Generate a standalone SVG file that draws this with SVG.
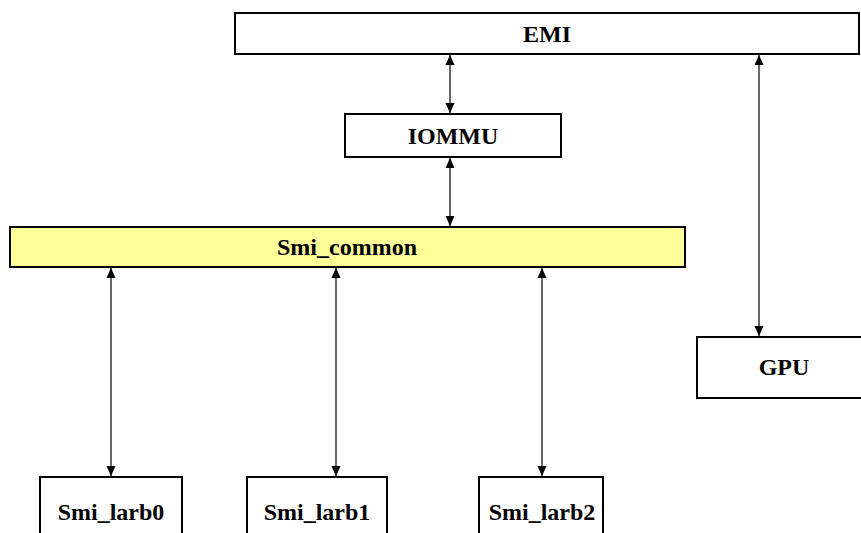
<svg xmlns="http://www.w3.org/2000/svg" width="861" height="533" viewBox="0 0 861 533">
  <style>
    .box { fill: #ffffff; stroke: #000000; stroke-width: 2; }
    .common { fill: #ffff99; }
    .label { font-family: "Liberation Serif", "Times New Roman", serif; font-weight: bold; font-size: 24px; text-anchor: middle; fill: #000000; }
    .link { stroke: #000000; stroke-width: 1.2; fill: none; marker-start: url(#head); marker-end: url(#head); }
  </style>
  <defs>
    <marker id="head" viewBox="0 0 10 10" refX="10" refY="5" markerWidth="10" markerHeight="10" markerUnits="userSpaceOnUse" orient="auto-start-reverse">
      <path d="M0,0.5 L10,5 L0,9.5 Z" fill="#000000"/>
    </marker>
  </defs>
  <rect width="861" height="533" fill="#ffffff"/>

  <g id="connectors">
    <line class="link" x1="450" y1="55" x2="450" y2="113"/>
    <line class="link" x1="450" y1="158" x2="450" y2="226"/>
    <line class="link" x1="759" y1="55" x2="759" y2="336"/>
    <line class="link" x1="111" y1="268" x2="111" y2="476"/>
    <line class="link" x1="336" y1="268" x2="336" y2="476"/>
    <line class="link" x1="542" y1="268" x2="542" y2="476"/>
  </g>

  <g id="emi">
    <rect class="box" x="235" y="13" width="624" height="41"/>
    <text class="label" x="547" y="42">EMI</text>
  </g>
  <g id="iommu">
    <rect class="box" x="345" y="114" width="216" height="43"/>
    <text class="label" x="453" y="144">IOMMU</text>
  </g>
  <g id="smi_common">
    <rect class="box common" x="10" y="227" width="675" height="40"/>
    <text class="label" x="347" y="255">Smi_common</text>
  </g>
  <g id="gpu">
    <rect class="box" x="697" y="337" width="174" height="61"/>
    <text class="label" x="784" y="375">GPU</text>
  </g>
  <g id="smi_larb0">
    <rect class="box" x="40" y="477" width="142" height="70"/>
    <text class="label" x="111" y="520">Smi_larb0</text>
  </g>
  <g id="smi_larb1">
    <rect class="box" x="247" y="477" width="140" height="70"/>
    <text class="label" x="317" y="520">Smi_larb1</text>
  </g>
  <g id="smi_larb2">
    <rect class="box" x="479" y="477" width="124" height="70"/>
    <text class="label" x="542" y="520">Smi_larb2</text>
  </g>
</svg>
